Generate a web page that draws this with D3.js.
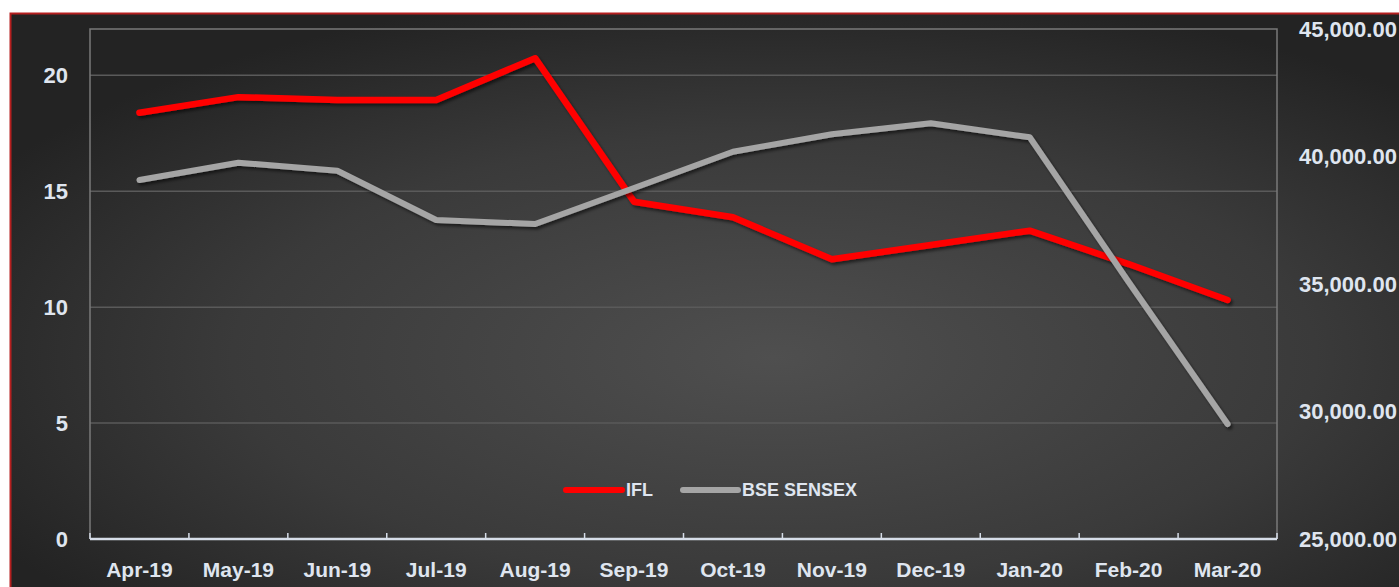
<!DOCTYPE html>
<html>
<head>
<meta charset="utf-8">
<script src="https://cdn.jsdelivr.net/npm/d3@7"></script>
<style>
  html, body { margin: 0; padding: 0; background: #ffffff; }
  svg { display: block; }
  text { font-family: "Liberation Sans", Arial, sans-serif; font-weight: bold; fill: #dfe5ef; }
</style>
</head>
<body>
<svg id="chart" width="1399" height="587"></svg>
<script>
const months = ["Apr-19","May-19","Jun-19","Jul-19","Aug-19","Sep-19","Oct-19","Nov-19","Dec-19","Jan-20","Feb-20","Mar-20"];
const iflValues = [18.39, 19.06, 18.94, 18.94, 20.74, 14.55, 13.88, 12.07, 12.68, 13.30, 11.86, 10.31];
const sensexValues = [39078, 39757, 39443, 37510, 37353, 38765, 40188, 40871, 41302, 40753, 35078, 29510];
const leftTicks = [0, 5, 10, 15, 20];
const rightTicks = [25000, 30000, 35000, 40000, 45000];
const seriesNames = ["IFL", "BSE SENSEX"];

const W = 1399, H = 587;
const plot = { left: 90, right: 1277, top: 29, bottom: 539 };
const svg = d3.select("#chart");

const defs = svg.append("defs");
const grad = defs.append("radialGradient").attr("id", "bg")
  .attr("cx", "55%").attr("cy", "60%").attr("r", "65%");
grad.append("stop").attr("offset", "0%").attr("stop-color", "#4f4f4f");
grad.append("stop").attr("offset", "60%").attr("stop-color", "#3a3a3a");
grad.append("stop").attr("offset", "100%").attr("stop-color", "#232323");
const f = defs.append("filter").attr("id", "shadow").attr("x", "-5%").attr("y", "-20%").attr("width", "110%").attr("height", "140%");
f.append("feDropShadow").attr("dx", 2).attr("dy", 2.5).attr("stdDeviation", 1.6)
  .attr("flood-color", "#000").attr("flood-opacity", 0.55);

// background panel
svg.append("rect").attr("x", 10).attr("y", 13).attr("width", W - 10).attr("height", H - 13).attr("fill", "url(#bg)");
svg.append("path").attr("d", `M10.5,${H} V13.5 H${W}`).attr("fill", "none").attr("stroke", "#b51f1f").attr("stroke-width", 2);

const x = d3.scaleBand().domain(months).range([plot.left, plot.right]);
const cx = d => x(d) + x.bandwidth() / 2;
const yL = d3.scaleLinear().domain([0, 22]).range([plot.bottom, plot.top]);
const yR = d3.scaleLinear().domain([25000, 45000]).range([plot.bottom, plot.top]);

// gridlines
svg.append("g").selectAll("line").data(leftTicks.filter(d => d > 0)).join("line")
  .attr("x1", plot.left).attr("x2", plot.right)
  .attr("y1", d => yL(d)).attr("y2", d => yL(d))
  .attr("stroke", "#5a5a5a").attr("stroke-width", 1.5);

// plot border (left, top, right)
svg.append("path")
  .attr("d", `M${plot.left},${plot.bottom} V${plot.top} H${plot.right} V${plot.bottom}`)
  .attr("fill", "none").attr("stroke", "#7a7a7a").attr("stroke-width", 1.5);

// left axis
const gl = svg.append("g").attr("transform", `translate(${plot.left},0)`)
  .call(d3.axisLeft(yL).tickValues(leftTicks).tickSize(0).tickPadding(22));
gl.select(".domain").remove();
gl.selectAll("text").style("font-size", "22px").attr("fill", "#dfe5ef").attr("font-family", null);

// right axis
const gr = svg.append("g").attr("transform", `translate(${plot.right},0)`)
  .call(d3.axisRight(yR).tickValues(rightTicks).tickFormat(d3.format(",.2f")).tickSize(0).tickPadding(22));
gr.select(".domain").remove();
gr.selectAll("text").style("font-size", "22px").attr("fill", "#dfe5ef").attr("font-family", null);

// x axis
const gx = svg.append("g").attr("transform", `translate(0,${plot.bottom})`)
  .call(d3.axisBottom(x).tickSize(0).tickPadding(23));
gx.select(".domain").remove();
gx.selectAll("text").style("font-size", "21px").attr("fill", "#dfe5ef").attr("font-family", null);
const bounds = months.map(m => x(m)).concat([x(months[months.length - 1]) + x.step()]);
gx.append("g").selectAll("line").data(bounds).join("line")
  .attr("x1", d => d).attr("x2", d => d).attr("y1", 0).attr("y2", -6)
  .attr("stroke", "#d6dde8").attr("stroke-width", 1.5);
gx.append("line").attr("x1", plot.left).attr("x2", plot.right).attr("y1", 0).attr("y2", 0)
  .attr("stroke", "#d6dde8").attr("stroke-width", 2.5);

// lines
const lineL = d3.line().x((d, i) => cx(months[i])).y(d => yL(d));
const lineR = d3.line().x((d, i) => cx(months[i])).y(d => yR(d));
svg.append("path").datum(iflValues).attr("d", lineL)
  .attr("fill", "none").attr("stroke", "#ff0000").attr("stroke-width", 6.5)
  .attr("stroke-linecap", "round").attr("stroke-linejoin", "round").attr("filter", "url(#shadow)");
svg.append("path").datum(sensexValues).attr("d", lineR)
  .attr("fill", "none").attr("stroke", "#a5a5a5").attr("stroke-width", 6)
  .attr("stroke-linecap", "round").attr("stroke-linejoin", "round").attr("filter", "url(#shadow)");

// legend
const legendItems = [
  { name: seriesNames[0], color: "#ff0000", x0: 566, x1: 622, tx: 626 },
  { name: seriesNames[1], color: "#a5a5a5", x0: 683, x1: 738, tx: 742 }
];
const lg = svg.append("g");
legendItems.forEach(it => {
  lg.append("line").attr("x1", it.x0).attr("x2", it.x1).attr("y1", 490).attr("y2", 490)
    .attr("stroke", it.color).attr("stroke-width", 6).attr("stroke-linecap", "round");
  lg.append("text").attr("x", it.tx).attr("y", 490).attr("dy", "0.35em")
    .style("font-size", "18px").text(it.name);
});
</script>
</body>
</html>
